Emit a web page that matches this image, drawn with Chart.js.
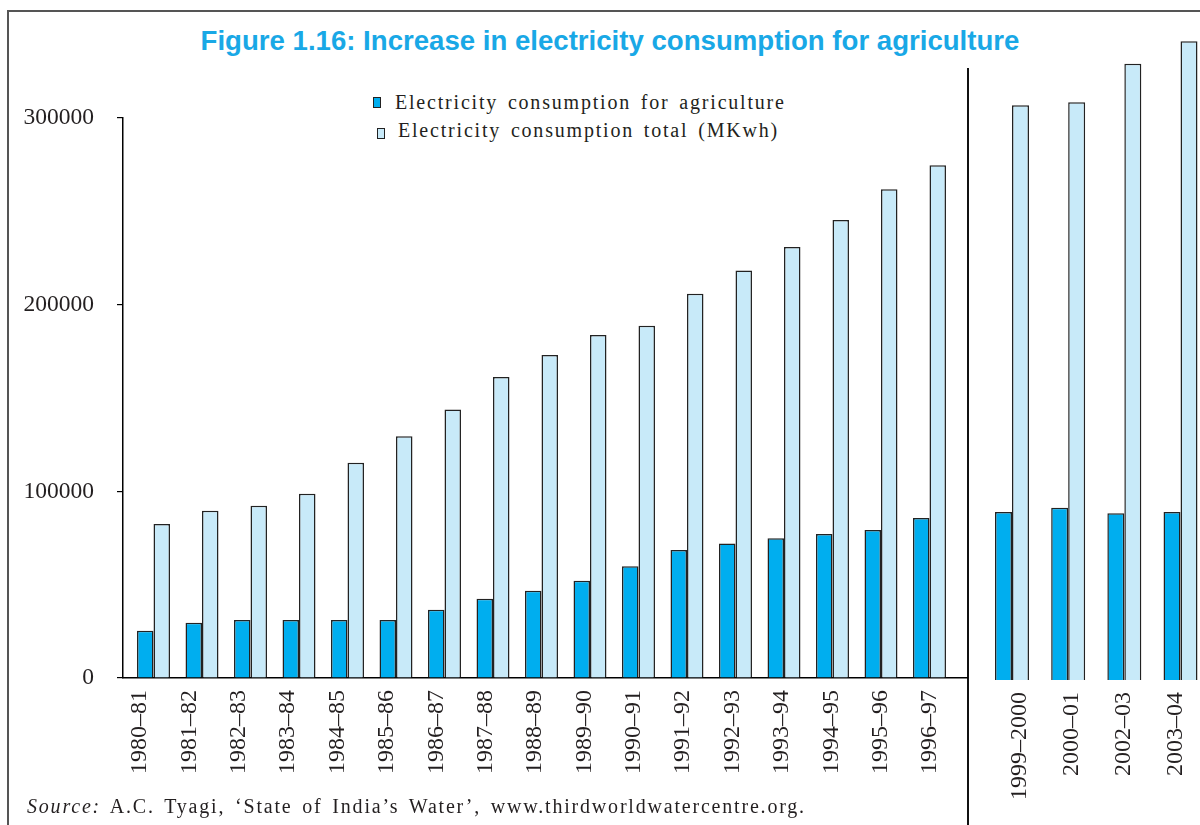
<!DOCTYPE html>
<html><head><meta charset="utf-8">
<script src="https://cdn.jsdelivr.net/npm/chart.js@4.4.1/dist/chart.umd.min.js"></script>
<style>
html,body{margin:0;padding:0;background:#fff;}
#wrap{position:relative;width:1200px;height:825px;overflow:hidden;background:#fff;}
.ln{position:absolute;}
#title{position:absolute;left:0;width:1220px;top:25px;text-align:center;font:bold 27.6px "Liberation Sans",Arial,sans-serif;color:#19a8e6;white-space:nowrap;}
#legend{position:absolute;left:372px;top:89px;font:20px "Liberation Serif","Times New Roman",serif;color:#231f20;letter-spacing:1.8px;word-spacing:3px;white-space:nowrap;}
#legend div{position:relative;height:28px;line-height:26px;}
.mk{position:absolute;width:6px;height:9px;border:1.2px solid #222;}
#source{position:absolute;left:27px;top:795px;font:20px "Liberation Serif","Times New Roman",serif;color:#231f20;letter-spacing:1.8px;word-spacing:3px;white-space:nowrap;}
canvas{position:absolute;}
</style>
</head><body>
<div id="wrap">
  <div class="ln" style="left:8px;top:10px;width:1192px;height:2px;background:#555;"></div>
  <div class="ln" style="left:7px;top:10px;width:2px;height:815px;background:#555;"></div>
  <div class="ln" style="left:967px;top:68px;width:1.5px;height:757px;background:#111;"></div>
  <div id="title">Figure 1.16: Increase in electricity consumption for agriculture</div>
  <div id="legend">
    <div><span class="mk" style="left:1px;top:8px;background:#00aeef;"></span><span style="margin-left:23px;">Electricity consumption for agriculture</span></div>
    <div><span class="mk" style="left:5px;top:11px;background:#c8eaf9;"></span><span style="margin-left:26px;">Electricity consumption total (MKwh)</span></div>
  </div>
  <canvas id="c1" width="968" height="825" style="left:0;top:0;"></canvas>
  <canvas id="c2" width="232" height="825" style="left:968px;top:2px;"></canvas>
  <div id="source"><i>Source:</i> A.C. Tyagi, ‘State of India’s Water’, www.thirdworldwatercentre.org.</div>
</div>
<script>
// ---- data ----
const categoriesA = ['1980–81','1981–82','1982–83','1983–84','1984–85','1985–86','1986–87','1987–88','1988–89','1989–90','1990–91','1991–92','1992–93','1993–94','1994–95','1995–96','1996–97'];
const agricultureA = [25300, 29600, 31100, 31100, 31100, 31100, 36600, 42500, 46800, 52100, 59900, 68600, 72100, 74900, 77100, 79300, 85700];
const totalA = [82500, 89600, 92300, 98700, 115300, 129500, 143900, 161200, 173000, 183800, 188700, 205900, 218300, 230900, 245300, 261800, 274700];
const categoriesB = ['1999–2000','2000–01','2002–03','2003–04'];
const agricultureB = [90000, 92300, 89300, 90000];
const totalB = [307900, 309500, 330200, 342200];
const yTickValues = [0, 100000, 200000, 300000];

const AGRI_COLOR = '#00aeef';
const TOTAL_COLOR = '#c8eaf9';
const EDGE = '#222222';
const TEXT = '#231f20';
const SERIF = '"Liberation Serif", "Times New Roman", serif';

function pts(arr){ return arr.map((v,i)=>({x:i, y:v})); }
function idxTicks(list){ return (scale)=>{ scale.ticks = list.map((_,i)=>({value:i})); }; }

function makeDatasets(agri, total, cp){
  return [
    {label:'Electricity consumption for agriculture', data:pts(agri), backgroundColor:AGRI_COLOR, borderColor:EDGE, borderWidth:1.5, categoryPercentage:cp, barPercentage:1, xAxisID:'x', clip:false},
    {label:'Electricity consumption total (MKwh)', data:pts(total), backgroundColor:TOTAL_COLOR, borderColor:EDGE, borderWidth:1.5, categoryPercentage:cp, barPercentage:1, xAxisID:'x', clip:false}
  ];
}

function barAxis(list, min, max){
  return {type:'linear', display:false, offset:false, min:min, max:max, bounds:'data', afterBuildTicks:idxTicks(list)};
}

function labelAxis(list, min, max, showBorder){
  return {
    type:'linear', position:'bottom', offset:false, min:min, max:max, bounds:'data',
    afterBuildTicks: idxTicks(list),
    afterFit:(s)=>{ s.height = 147; s.paddingLeft = 0; s.paddingRight = 0; },
    grid:{display:true, offset:false, drawOnChartArea:false, drawTicks:false, color:'#000'},
    border:{display:showBorder, color:'#000', width:1.5},
    ticks:{autoSkip:false, minRotation:90, maxRotation:90, padding:12, color:TEXT,
      font:{family:SERIF, size:24}, callback:(v)=>list[v]}
  };
}

Chart.defaults.animation = false;

new Chart(document.getElementById('c1'), {
  type:'bar',
  data:{datasets:makeDatasets(agricultureA, totalA, 0.68)},
  options:{
    responsive:false, animation:false, devicePixelRatio:1,
    layout:{padding:{top:118, left:0, right:0, bottom:0}},
    plugins:{legend:{display:false}, tooltip:{enabled:false}},
    scales:{
      x:barAxis(categoriesA, -0.629, 16.794),
      xl:labelAxis(categoriesA, -0.344, 16.77, true),
      y:{type:'linear', position:'left', min:0, max:300000, bounds:'data',
        afterBuildTicks:(s)=>{ s.ticks = yTickValues.map(v=>({value:v})); },
        afterFit:(s)=>{ s.width = 123; },
        grid:{display:true, drawOnChartArea:false, drawTicks:true, tickLength:6, color:'#000', lineWidth:1.2},
        border:{display:true, color:'#000', width:1.5},
        ticks:{padding:23, color:TEXT, font:{family:SERIF, size:23.5}, callback:(v)=>String(v)}
      }
    }
  }
});

new Chart(document.getElementById('c2'), {
  type:'bar',
  data:{datasets:makeDatasets(agricultureB, totalB, 0.605)},
  options:{
    responsive:false, animation:false, devicePixelRatio:1,
    layout:{padding:{top:6, left:0, right:0, bottom:0}},
    plugins:{legend:{display:false}, tooltip:{enabled:false}},
    scales:{
      x:barAxis(categoriesB, -0.7834, 3.347),
      xl:labelAxis(categoriesB, -1.0, 3.4615, false),
      y:{type:'linear', display:false, min:0, max:360000, bounds:'data'}
    }
  }
});
</script>
</body></html>
